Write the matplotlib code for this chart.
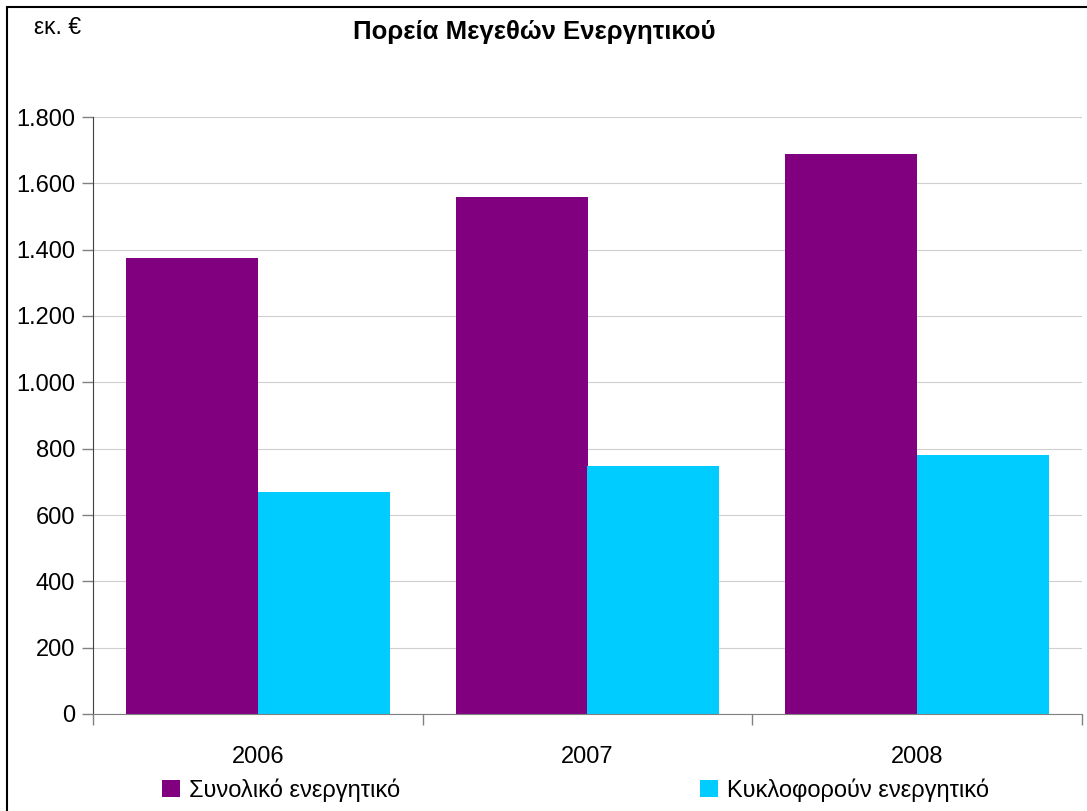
import matplotlib
matplotlib.use("Agg")
import matplotlib.pyplot as plt
from matplotlib.patches import Rectangle, Patch
from matplotlib.ticker import FuncFormatter, FixedLocator
import numpy as np

plt.rcParams['font.family'] = ['Liberation Sans Narrow', 'Liberation Sans', 'DejaVu Sans']

years = ["2006", "2007", "2008"]
total_assets = [1375, 1559, 1688]
current_assets = [669, 748, 781]
series_names = ["Συνολικό ενεργητικό", "Κυκλοφορούν ενεργητικό"]
colors = ["#800080", "#00CCFF"]
title = "Πορεία Μεγεθών Ενεργητικού"
unit = "εκ. €"

W, H = 1087, 811
fig = plt.figure(figsize=(W / 100, H / 100), dpi=100)
ax = fig.add_axes([93 / W, 1 - 714 / H, (1082 - 93) / W, (714 - 117) / H])

x = np.arange(len(years))
bw = 0.4
ax.bar(x - bw / 2, total_assets, width=bw, color=colors[0], zorder=3)
ax.bar(x + bw / 2, current_assets, width=bw, color=colors[1], zorder=3)

ax.set_xlim(-0.5, len(years) - 0.5)
ax.set_ylim(0, 1800)
ax.set_yticks(np.arange(0, 1801, 200))
ax.yaxis.set_major_formatter(FuncFormatter(lambda v, p: f"{int(v):,}".replace(",", ".")))
ax.yaxis.grid(True, color="#cfcfcf", linewidth=0.8, zorder=0)
ax.set_axisbelow(True)

ax.set_xticks(x)
ax.set_xticklabels(years)
ax.xaxis.set_minor_locator(FixedLocator(np.arange(-0.5, len(years), 1.0)))
ax.tick_params(axis='x', which='major', length=0, pad=23, labelsize=17)
ax.tick_params(axis='x', which='minor', length=8, width=1, color="#808080", direction='out')
ax.tick_params(axis='y', length=8, width=1, color="#808080", labelsize=17, pad=5)

for s in ["top", "right"]:
    ax.spines[s].set_visible(False)
ax.spines["left"].set_color("#404040")
ax.spines["bottom"].set_color("#808080")
ax.spines["left"].set_zorder(4)
ax.spines["bottom"].set_zorder(4)

fig.text(534 / W, 1 - 32 / H, title, ha="center", va="center", fontsize=18.5, fontweight="bold")
fig.text(58 / W, 1 - 28 / H, unit, ha="center", va="center", fontsize=16.5)

# frame
fig.patches.append(Rectangle((7 / W, -0.1), 1.2, 1 - 7 / H + 0.1, transform=fig.transFigure,
                             fill=False, edgecolor="black", linewidth=1.5))

h1 = Patch(facecolor=colors[0])
h2 = Patch(facecolor=colors[1])
common = dict(frameon=False, fontsize=17, handlelength=0.78, handleheight=0.78, handletextpad=0.35,
              borderpad=0, borderaxespad=0, loc="center left")
fig.legend([h1], [series_names[0]], bbox_to_anchor=(162 / W, 1 - 790 / H), **common)
fig.legend([h2], [series_names[1]], bbox_to_anchor=(700 / W, 1 - 790 / H), **common)

fig.savefig("out.png", dpi=100)
